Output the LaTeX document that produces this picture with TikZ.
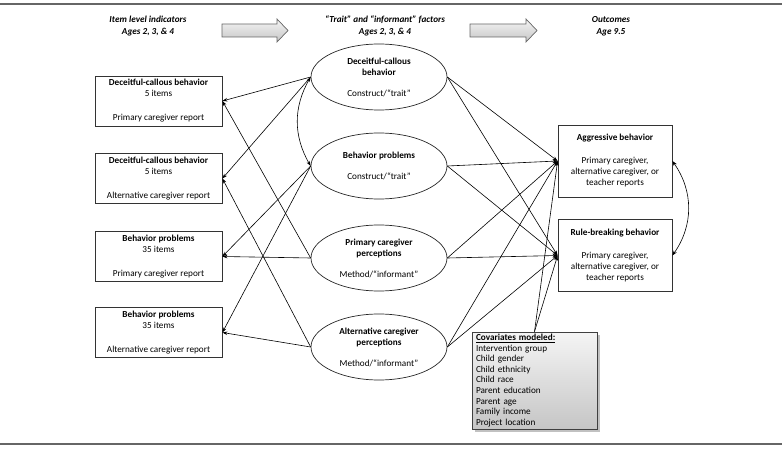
\documentclass[tikz,border=0pt]{standalone}
\usepackage{fontspec}
\setmainfont{Carlito}
\usetikzlibrary{shapes.geometric,arrows.meta,shadows}
\begin{document}
\begin{tikzpicture}[x=1pt,y=-1pt,
  font=\fontsize{9.2}{11}\selectfont,
  box/.style={draw=black!80, line width=0.8pt, rectangle, minimum width=127pt, minimum height=50pt, inner sep=0pt, align=center},
  obox/.style={draw=black!80, line width=0.8pt, rectangle, minimum width=114pt, minimum height=72pt, inner sep=0pt, align=center},
  fac/.style={draw=black!85, line width=0.7pt, ellipse, minimum width=136pt, minimum height=66pt, inner sep=0pt, align=center},
  hdr/.style={align=center, font=\fontsize{9.2}{12}\selectfont\bfseries\itshape},
  conn/.style={line width=0.6pt, -{Stealth[length=5pt,width=3.5pt]}},
  dconn/.style={line width=0.6pt, {Stealth[length=5pt,width=3.5pt]}-{Stealth[length=5pt,width=3.5pt]}},
  harrow/.style={draw=black!60, line width=0.7pt, top color=gray!8, bottom color=gray!45},
  hrule/.style={draw=gray!80!black, line width=1.2pt}]
\useasboundingbox (0,0) rectangle (782,449);

% rules
\coordinate (tl) at (0,4);
\coordinate (tr) at (782,4);
\coordinate (bl) at (0,444);
\coordinate (br) at (782,444);
\draw[hrule] (tl) -- (tr);
\draw[hrule] (bl) -- (br);

% headers
\node[hdr] (h1) at (148,26) {Item level indicators\\Ages 2, 3, \& 4};
\node[hdr] (h2) at (385,26) {“Trait” and “informant” factors\\Ages 2, 3, \& 4};
\node[hdr] (h3) at (611,26) {Outcomes\\Age 9.5};

% header arrows
\shade[harrow] (222,24) -- (277,24) -- (277,19) -- (288,30.5) -- (277,42) -- (277,37) -- (222,37) -- cycle;
\shade[harrow] (470,24) -- (526,24) -- (526,19) -- (537,30.5) -- (526,42) -- (526,37) -- (470,37) -- cycle;

% left boxes
\node[box] (b1) at (158.5,101) {\textbf{Deceitful-callous behavior}\\5 items\\[13pt]Primary caregiver report};
\node[box] (b2) at (158.5,178.5) {\textbf{Deceitful-callous behavior}\\5 items\\[13pt]Alternative caregiver report};
\node[box] (b3) at (158.5,256.5) {\textbf{Behavior problems}\\35 items\\[13pt]Primary caregiver report};
\node[box] (b4) at (158.5,332.5) {\textbf{Behavior problems}\\35 items\\[13pt]Alternative caregiver report};

% factors
\node[fac] (e1) at (379,77) {\textbf{Deceitful-callous}\\\textbf{behavior}\\[10pt]Construct/“trait”};
\node[fac] (e2) at (379,166) {\textbf{Behavior problems}\\[10pt]Construct/“trait”};
\node[fac] (e3) at (379,258) {\textbf{Primary caregiver}\\\textbf{perceptions}\\[10pt]Method/“informant”};
\node[fac] (e4) at (379,347) {\textbf{Alternative caregiver}\\\textbf{perceptions}\\[10pt]Method/“informant”};

% outcomes
\node[obox] (ag) at (615,161) {\textbf{Aggressive behavior}\\[12pt]Primary caregiver,\\alternative caregiver, or\\teacher reports};
\node[obox] (rb) at (615,255.5) {\textbf{Rule-breaking behavior}\\[12pt]Primary caregiver,\\alternative caregiver, or\\teacher reports};

% covariates
\node[draw=black!75, line width=0.8pt, top color=gray!8, bottom color=gray!45,
      drop shadow={shadow xshift=2.5pt, shadow yshift=-2.5pt, fill=gray!70, opacity=0.7},
      minimum width=125pt, minimum height=97pt, text width=117pt, inner xsep=4pt, inner ysep=0pt,
      align=left, font=\fontsize{9.2}{10.6}\selectfont] (cov) at (534.5,380.5)
  {\underline{\textbf{Covariates modeled:}}\\Intervention group\\Child gender\\Child ethnicity\\Child race\\Parent education\\Parent age\\Family income\\Project location};

% measurement connectors
\draw[conn] (e1.west) -- (b1.east);
\draw[conn] (e1.west) -- (b2.east);
\draw[conn] (e2.west) -- (b3.east);
\draw[conn] (e2.west) -- (b4.east);
\draw[conn] (e3.west) -- (b1.east);
\draw[conn] (e3.west) -- (b3.east);
\draw[conn] (e4.west) -- (b2.east);
\draw[conn] (e4.west) -- (b4.east);

% trait correlation
\draw[dconn] (e1.west) to[bend right=30] (e2.west);

% structural connectors
\draw[conn] (e1.east) -- (ag.west);
\draw[conn] (e1.east) -- (rb.west);
\draw[conn] (e2.east) -- (ag.west);
\draw[conn] (e2.east) -- (rb.west);
\draw[conn] (e3.east) -- (ag.west);
\draw[conn] (e3.east) -- (rb.west);
\draw[conn] (e4.east) -- (ag.west);
\draw[conn] (e4.east) -- (rb.west);
\draw[conn] (cov.north) -- (ag.west);
\draw[conn] (cov.north) -- (rb.west);

% outcome correlation
\draw[dconn] (ag.east) to[bend left=35] (rb.east);
\end{tikzpicture}
\end{document}
